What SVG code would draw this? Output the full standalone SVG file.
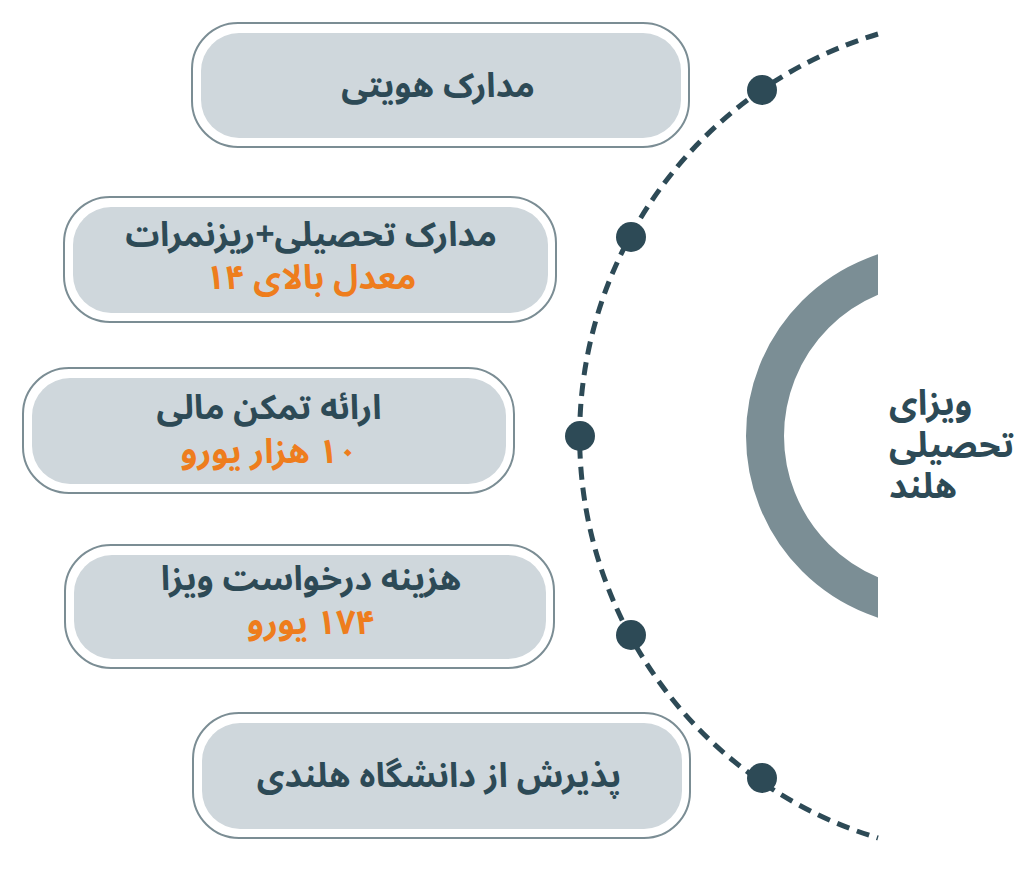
<svg xmlns="http://www.w3.org/2000/svg" width="1024" height="888" viewBox="0 0 1024 888">
<defs>
<style>
.outer{fill:#ffffff;stroke:#7b8d94;stroke-width:2}
.inner{fill:#cfd7dc}
.t{font-family:"Noto Sans Arabic","Noto Sans","DejaVu Sans",sans-serif;font-weight:bold;font-size:34px;fill:#2d4a56;text-anchor:middle;direction:rtl}
.o{fill:#ee7d1d}
.c{font-family:"Noto Sans Arabic","Noto Sans","DejaVu Sans",sans-serif;font-weight:bold;font-size:35px;fill:#2d4a56;text-anchor:start}
.dot{fill:#2d4a56}
</style>
<clipPath id="clipL"><rect x="0" y="0" width="878" height="888"/></clipPath>
</defs>
<rect width="1024" height="888" fill="#ffffff"/>
<g id="center">
<circle cx="937" cy="436" r="172" fill="none" stroke="#7b8e95" stroke-width="38" clip-path="url(#clipL)"/>
<text class="c" x="889" y="415">ویزای</text>
<text class="c" x="889" y="457">تحصیلی</text>
<text class="c" x="889" y="498">هلند</text>
</g>
<g id="connectors">
<path d="M 878 34 A 420 420 0 0 0 878 838" fill="none" stroke="#2d4a56" stroke-width="5" stroke-dasharray="13 8"/>
<circle class="dot" cx="762" cy="90" r="15"/>
<circle class="dot" cx="631" cy="237" r="15"/>
<circle class="dot" cx="580" cy="436" r="15"/>
<circle class="dot" cx="631" cy="635" r="15"/>
<circle class="dot" cx="762" cy="778" r="15"/>
</g>
<g id="node1">
<rect class="outer" x="192" y="23" width="497" height="124" rx="46"/>
<rect class="inner" x="201" y="33" width="480" height="105" rx="38"/>
<text class="t" x="438" y="97">مدارک هویتی</text>
</g>
<g id="node2">
<rect class="outer" x="64" y="197" width="492" height="125" rx="46"/>
<rect class="inner" x="73" y="207" width="475" height="106" rx="38"/>
<text class="t" x="311" y="246">مدارک تحصیلی+ریزنمرات</text>
<text class="t o" x="311" y="289">معدل بالای ۱۴</text>
</g>
<g id="node3">
<rect class="outer" x="23" y="368" width="491" height="125" rx="46"/>
<rect class="inner" x="32" y="378" width="474" height="106" rx="38"/>
<text class="t" x="269" y="419">ارائه تمکن مالی</text>
<text class="t o" x="269" y="463">۱۰ هزار یورو</text>
</g>
<g id="node4">
<rect class="outer" x="65" y="545" width="489" height="123" rx="46"/>
<rect class="inner" x="74" y="555" width="472" height="104" rx="38"/>
<text class="t" x="311" y="590">هزینه درخواست ویزا</text>
<text class="t o" x="311" y="634">۱۷۴ یورو</text>
</g>
<g id="node5">
<rect class="outer" x="193" y="713" width="497" height="125" rx="46"/>
<rect class="inner" x="202" y="723" width="480" height="106" rx="38"/>
<text class="t" x="439" y="787">پذیرش از دانشگاه هلندی</text>
</g>
</svg>
